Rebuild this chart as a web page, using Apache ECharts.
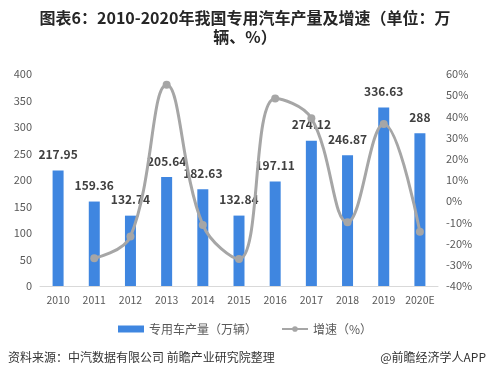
<!DOCTYPE html>
<html><head><meta charset="utf-8">
<script src="https://cdn.jsdelivr.net/npm/echarts@6/dist/echarts.min.js"></script>
<style>html,body{margin:0;padding:0;background:#fff}#c{width:490px;height:379px}</style>
</head><body><div id="c"></div>
<script>
const categories = ['2010','2011','2012','2013','2014','2015','2016','2017','2018','2019','2020E'];
const production = [217.95,159.36,132.74,205.64,182.63,132.84,197.11,274.12,246.87,336.63,288];
const growth = [null,-26.9,-16.7,54.9,-11.2,-27.3,48.4,39.1,-9.9,36.4,-14.4];
const leftTicks = {min:0,max:400,interval:50};
const rightTicks = {min:-40,max:60,interval:10};

const chart = echarts.init(document.getElementById('c'), null, {renderer:'canvas'});
const fontCN = '"Microsoft YaHei","Noto Sans CJK SC",sans-serif';
chart.setOption({
  animation:false,
  backgroundColor:'#fff',
  grid:{left:40,right:52,top:74,bottom:93,containLabel:false},
  legend:{
    bottom:39,left:'center',itemGap:24,itemWidth:26,itemHeight:7,
    textStyle:{color:'#595959',fontSize:12,fontFamily:fontCN},
    data:[{name:'专用车产量（万辆）',icon:'rect'},{name:'增速（%）'}]
  },
  xAxis:{
    type:'category',data:categories,
    axisLine:{lineStyle:{color:'#D9D9D9'}},
    axisTick:{show:false},
    axisLabel:{color:'#595959',fontSize:10.5,margin:9,interval:0,fontFamily:fontCN}
  },
  yAxis:[
    {type:'value',min:leftTicks.min,max:leftTicks.max,interval:leftTicks.interval,
     splitLine:{show:false},axisLine:{show:false},axisTick:{show:false},
     axisLabel:{color:'#595959',fontSize:11,margin:8,fontFamily:fontCN}},
    {type:'value',min:rightTicks.min,max:rightTicks.max,interval:rightTicks.interval,
     splitLine:{show:false},axisLine:{show:false},axisTick:{show:false},
     axisLabel:{color:'#595959',fontSize:11,margin:8,formatter:'{value}%',fontFamily:fontCN}}
  ],
  series:[
    {name:'专用车产量（万辆）',type:'bar',data:production,barWidth:11,
     itemStyle:{color:'#3F86E0'},
     label:{show:true,position:'top',distance:10,color:'#404040',fontSize:12,fontWeight:'bold',fontFamily:fontCN}},
    {name:'增速（%）',type:'line',yAxisIndex:1,data:growth,smooth:0.4,
     symbol:'circle',symbolSize:8,
     lineStyle:{color:'#A6A6A6',width:3},
     itemStyle:{color:'#A6A6A6'}}
  ],
  graphic:[
    {type:'text',x:245,y:10,style:{text:'图表6：2010-2020年我国专用汽车产量及增速（单位：万',fill:'#262626',font:'bold 16px '+fontCN,textAlign:'center'}},
    {type:'text',x:245,y:29,style:{text:'辆、%）',fill:'#262626',font:'bold 16px '+fontCN,textAlign:'center'}},
    {type:'text',left:8,top:351,style:{text:'资料来源：中汽数据有限公司 前瞻产业研究院整理',fill:'#333',font:'12px '+fontCN}},
    {type:'text',right:4,top:351,style:{text:'@前瞻经济学人APP',fill:'#333',font:'12px '+fontCN}}
  ]
});
</script></body></html>
